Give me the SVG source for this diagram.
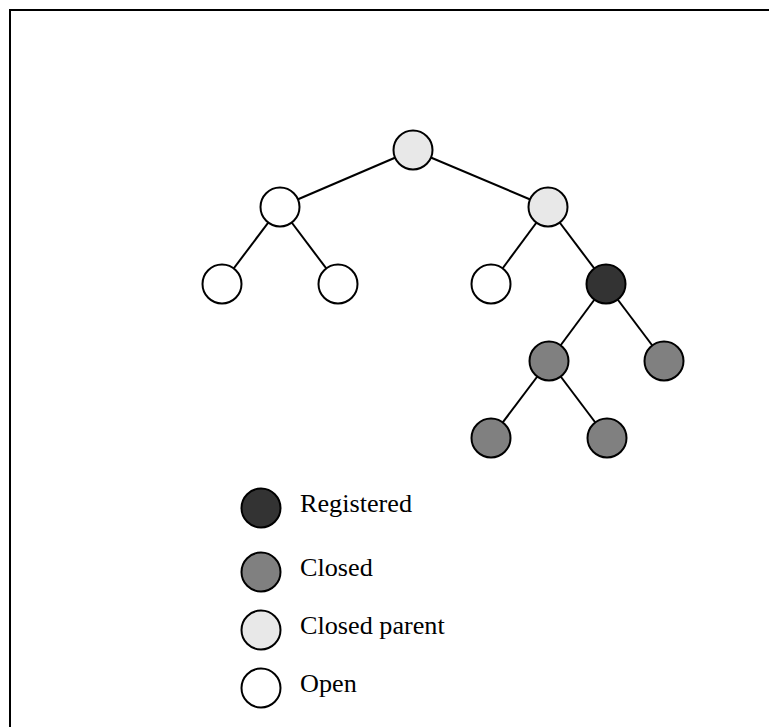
<svg xmlns="http://www.w3.org/2000/svg" width="769" height="727" viewBox="0 0 769 727">
  <style>
    .node { stroke: #000; stroke-width: 2; }
    .open { fill: #fff; }
    .cparent { fill: #e8e8e8; }
    .closed { fill: #808080; }
    .reg { fill: #333; }
    .edge { stroke: #000; stroke-width: 2; fill: none; }
    .lbl { font-family: "Liberation Serif", "Times New Roman", serif; font-size: 26.2px; fill: #000; }
  </style>
  <rect x="0" y="0" width="769" height="727" fill="#fff"/>
  <rect x="10" y="10" width="800" height="800" fill="none" stroke="#000" stroke-width="2"/>

  <g id="connectors">
    <line class="edge" x1="413" y1="150" x2="280" y2="207"/>
    <line class="edge" x1="413" y1="150" x2="548" y2="207"/>
    <line class="edge" x1="280" y1="207" x2="222" y2="284"/>
    <line class="edge" x1="280" y1="207" x2="338" y2="284"/>
    <line class="edge" x1="548" y1="207" x2="491" y2="284"/>
    <line class="edge" x1="548" y1="207" x2="606" y2="284"/>
    <line class="edge" x1="606" y1="284" x2="549" y2="361"/>
    <line class="edge" x1="606" y1="284" x2="664" y2="361"/>
    <line class="edge" x1="549" y1="361" x2="491" y2="438"/>
    <line class="edge" x1="549" y1="361" x2="607" y2="438"/>
  </g>

  <g id="n-root"><circle class="node cparent" cx="413" cy="150" r="19.5"/></g>
  <g id="n-l"><circle class="node open" cx="280" cy="207" r="19.5"/></g>
  <g id="n-r"><circle class="node cparent" cx="548" cy="207" r="19.5"/></g>
  <g id="n-ll"><circle class="node open" cx="222" cy="284" r="19.5"/></g>
  <g id="n-lr"><circle class="node open" cx="338" cy="284" r="19.5"/></g>
  <g id="n-rl"><circle class="node open" cx="491" cy="284" r="19.5"/></g>
  <g id="n-rr"><circle class="node reg" cx="606" cy="284" r="19.5"/></g>
  <g id="n-rrl"><circle class="node closed" cx="549" cy="361" r="19.5"/></g>
  <g id="n-rrr"><circle class="node closed" cx="664" cy="361" r="19.5"/></g>
  <g id="n-rrll"><circle class="node closed" cx="491" cy="438" r="19.5"/></g>
  <g id="n-rrlr"><circle class="node closed" cx="607" cy="438" r="19.5"/></g>

  <g id="legend">
    <g id="legend-registered">
      <circle class="node reg" cx="261" cy="508" r="19.5"/>
      <text class="lbl" x="300" y="512">Registered</text>
    </g>
    <g id="legend-closed">
      <circle class="node closed" cx="261" cy="572" r="19.5"/>
      <text class="lbl" x="300" y="576">Closed</text>
    </g>
    <g id="legend-cparent">
      <circle class="node cparent" cx="261" cy="630" r="19.5"/>
      <text class="lbl" x="300" y="634">Closed parent</text>
    </g>
    <g id="legend-open">
      <circle class="node open" cx="261" cy="688" r="19.5"/>
      <text class="lbl" x="300" y="692">Open</text>
    </g>
  </g>
</svg>
